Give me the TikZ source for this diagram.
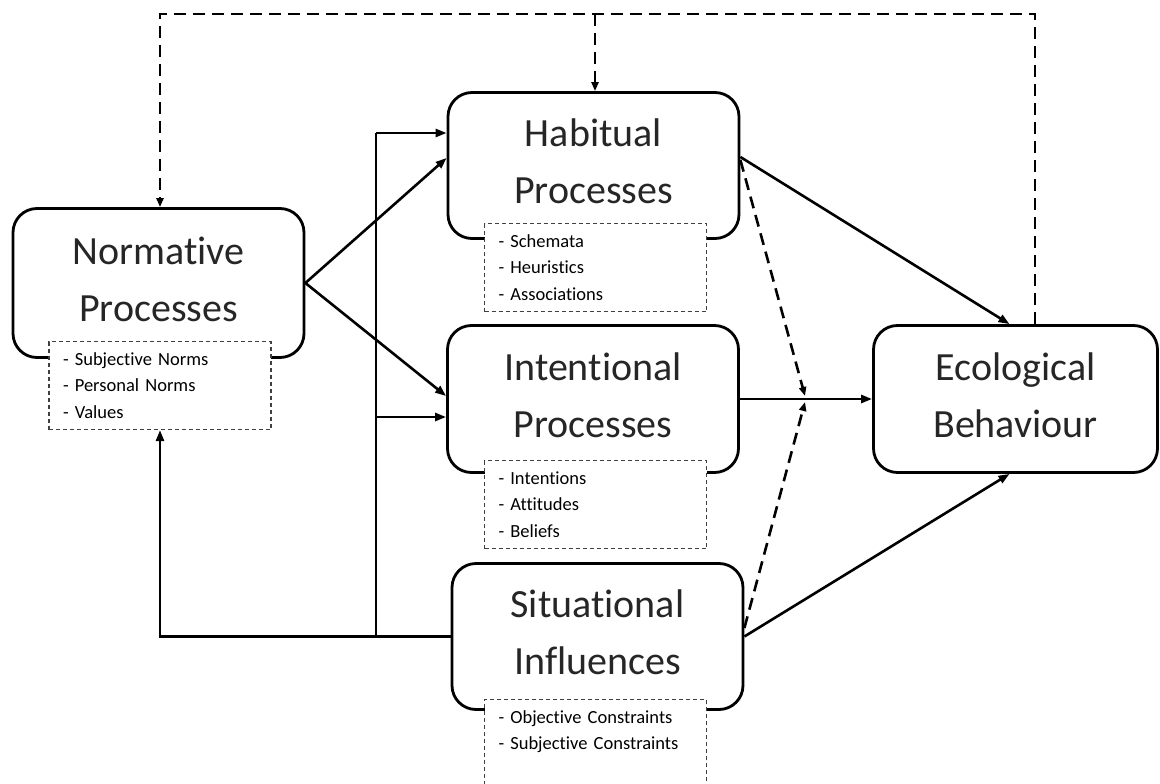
\documentclass[tikz,border=0pt]{standalone}
\usepackage{fontspec}
\setmainfont{Carlito}[RawFeature={-liga;-clig;-dlig}]
\usetikzlibrary{arrows.meta}
\begin{document}
\begin{tikzpicture}[x=1pt,y=-1pt,
    procbox/.style={draw, line width=2.8pt, rounded corners=24pt, minimum width=291pt, minimum height=146pt, text width=250pt, text depth=65pt, align=center, text=black!85, font=\fontsize{40}{57}\selectfont},
    listbox/.style={draw=black!75, dash pattern=on 4pt off 3pt, line width=1.1pt, fill=white, text width=194pt, inner xsep=14pt, inner ysep=0pt, minimum height=88pt, align=left, anchor=north, font=\fontsize{18.5}{26.5}\selectfont},
    link/.style={line width=2.6pt, -{Triangle[length=11pt,width=8pt]}},
    dlink/.style={line width=2.6pt, dash pattern=on 12pt off 7pt, -{Triangle[length=9pt,width=7pt]}}]
\useasboundingbox (0,0) rectangle (1160,784);
\node[procbox, minimum height=149pt] (norm) at (158.5,283) {Normative\\Processes};
\node[procbox] (hab) at (593.5,165.5) {Habitual\\Processes};
\node[procbox, minimum height=147pt] (int) at (593,399) {Intentional\\Processes};
\node[procbox] (sit) at (597.5,636.5) {Situational\\Influences};
\node[procbox, minimum width=284pt, minimum height=147pt] (eco) at (1015.5,399) {Ecological\\Behaviour};
\node[listbox] (normlist) at (160,341) {- Subjective Norms\\- Personal Norms\\- Values};
\node[listbox] (hablist) at (595.5,223) {- Schemata\\- Heuristics\\- Associations};
\node[listbox] (intlist) at (595.5,460) {- Intentions\\- Attitudes\\- Beliefs};
\node[listbox, minimum height=0pt, inner ysep=11pt, text depth=70pt] (sitlist) at (595.5,699) {- Objective Constraints\\- Subjective Constraints};
\coordinate (topL) at (160,14);
\coordinate (topM) at (595,14);
\coordinate (topR) at (1035,14);
\coordinate (splitT) at (376,133);
\coordinate (splitI) at (376,417);
\coordinate (meet) at (805,399);
\draw[dlink] (eco.north -| topR) -- (topR) -- (topL) -- (norm.north -| topL);
\draw[dlink] (topM) -- (hab.north -| topM);
\draw[link] (sit.west) -- (sit.west -| normlist.south) -- (normlist.south);
\draw[line width=2.6pt] (sit.west -| splitT) -- (splitT);
\draw[link] (splitT) -- (splitT -| hab.west);
\draw[link] (splitI) -- (splitI -| int.west);
\draw[link] (norm.east) -- ([yshift=7.5pt]hab.west);
\draw[link] (norm.east) -- ([yshift=3pt]int.west);
\draw[link] ([yshift=8.5pt]hab.east) -- ([xshift=-6pt]eco.north);
\draw[link] (sit.east) -- ([xshift=-6pt]eco.south);
\draw[link] (int.east) -- (int.east -| eco.west);
\draw[dlink] ([yshift=5.5pt]hab.east) -- ([yshift=3pt]meet);
\draw[dlink] ([yshift=8.5pt]sit.east) -- ([yshift=-3pt]meet);
\end{tikzpicture}
\end{document}
